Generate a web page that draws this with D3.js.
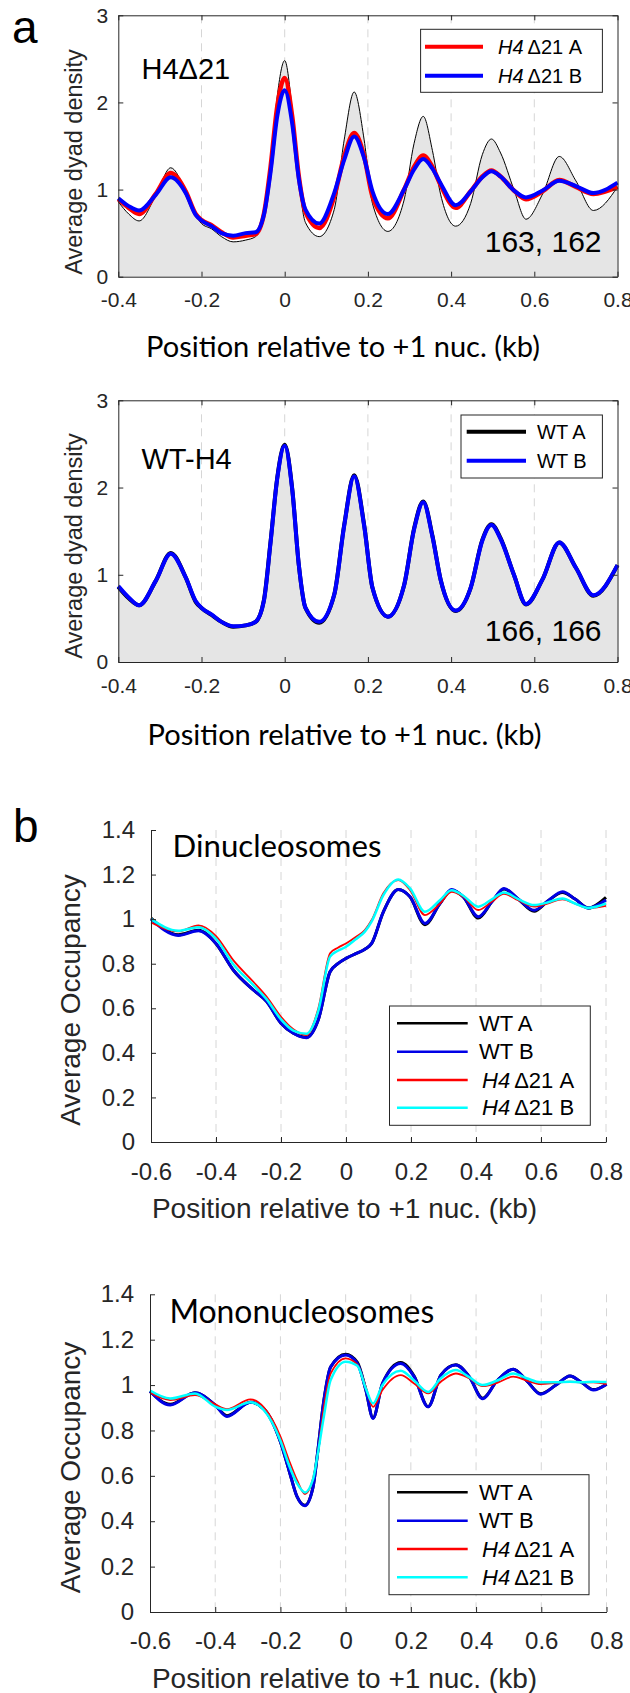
<!DOCTYPE html>
<html>
<head>
<meta charset="utf-8">
<title>Dyad density and nucleosome occupancy</title>
<script src="https://cdnjs.cloudflare.com/ajax/libs/d3/7.8.5/d3.min.js"></script>
<style>
body { margin: 0; background: #fff; }
svg { display: block; }
.axis path, .axis line { stroke: #262626; stroke-width: 1px; }
.axis text { fill: #262626; }
.grid { stroke: #d6d6d6; stroke-width: 1px; stroke-dasharray: 8,6; }
.curve { fill: none; stroke-linejoin: round; }
</style>
</head>
<body>
<script>
// ---- panel a: average dyad density (kb from +1 nucleosome) ----
var xDyad = [-0.4, -0.375, -0.35, -0.31, -0.274, -0.238, -0.214, -0.2, -0.176, -0.152, -0.124, -0.094, -0.07, -0.05, -0.034, -0.018, 0, 0.018, 0.034, 0.05, 0.083, 0.119, 0.143, 0.167, 0.191, 0.211, 0.248, 0.287, 0.311, 0.333, 0.355, 0.375, 0.411, 0.447, 0.475, 0.497, 0.519, 0.551, 0.58, 0.62, 0.66, 0.70, 0.742, 0.8];
var refDyad = [0.86, 0.72, 0.64, 0.93, 1.25, 0.98, 0.71, 0.61, 0.55, 0.46, 0.40, 0.42, 0.46, 0.69, 1.26, 2.07, 2.48, 1.92, 1.10, 0.62, 0.46, 0.77, 1.57, 2.12, 1.57, 0.84, 0.52, 0.88, 1.53, 1.84, 1.45, 0.94, 0.58, 0.84, 1.40, 1.58, 1.42, 1.00, 0.66, 0.95, 1.38, 1.10, 0.76, 1.03];
var mutADyad = [0.89, 0.79, 0.72, 0.95, 1.19, 0.98, 0.72, 0.65, 0.59, 0.51, 0.45, 0.47, 0.49, 0.72, 1.26, 1.95, 2.28, 1.84, 1.15, 0.74, 0.56, 0.92, 1.38, 1.65, 1.38, 0.92, 0.67, 1.00, 1.26, 1.39, 1.26, 1.05, 0.79, 0.98, 1.15, 1.22, 1.15, 0.99, 0.89, 0.98, 1.11, 1.03, 0.95, 1.03];
var mutBDyad = [0.90, 0.81, 0.76, 0.94, 1.14, 0.96, 0.71, 0.645, 0.58, 0.50, 0.47, 0.50, 0.51, 0.71, 1.20, 1.84, 2.14, 1.76, 1.12, 0.77, 0.61, 0.96, 1.34, 1.61, 1.36, 0.98, 0.72, 1.00, 1.23, 1.35, 1.24, 1.07, 0.82, 0.98, 1.14, 1.21, 1.15, 0.99, 0.91, 0.99, 1.10, 1.04, 0.96, 1.08];
var wtADyad = [0.86, 0.73, 0.65, 0.93, 1.25, 0.97, 0.69, 0.62, 0.54, 0.46, 0.405, 0.42, 0.46, 0.71, 1.38, 2.11, 2.49, 1.99, 1.11, 0.62, 0.45, 0.77, 1.57, 2.14, 1.57, 0.85, 0.52, 0.88, 1.53, 1.84, 1.45, 0.94, 0.585, 0.85, 1.40, 1.58, 1.42, 1.00, 0.66, 0.95, 1.37, 1.08, 0.76, 1.11];
var wtBDyad = [0.87, 0.74, 0.65, 0.93, 1.24, 0.97, 0.70, 0.62, 0.545, 0.46, 0.41, 0.42, 0.46, 0.70, 1.37, 2.10, 2.48, 1.98, 1.11, 0.62, 0.46, 0.77, 1.56, 2.13, 1.56, 0.85, 0.52, 0.88, 1.52, 1.83, 1.44, 0.94, 0.59, 0.85, 1.39, 1.57, 1.41, 1.00, 0.665, 0.95, 1.37, 1.08, 0.765, 1.11];

// ---- panel b: average occupancy, dinucleosomes ----
var xDi = [-0.6, -0.516, -0.454, -0.4, -0.347, -0.285, -0.244, -0.2, -0.162, -0.122, -0.085, -0.049, -0.025, 0, 0.03, 0.058, 0.079, 0.115, 0.161, 0.197, 0.243, 0.289, 0.325, 0.361, 0.407, 0.45, 0.486, 0.53, 0.579, 0.62, 0.666, 0.705, 0.745, 0.8];
var wtADi = [1.005, 0.93, 0.95, 0.89, 0.772, 0.682, 0.63, 0.533, 0.488, 0.47, 0.55, 0.764, 0.80, 0.824, 0.845, 0.865, 0.891, 1.033, 1.133, 1.10, 0.975, 1.07, 1.13, 1.10, 1.005, 1.08, 1.135, 1.09, 1.035, 1.08, 1.12, 1.09, 1.05, 1.098];
var wtBDi = [1.0, 0.927, 0.948, 0.891, 0.772, 0.682, 0.63, 0.533, 0.488, 0.468, 0.55, 0.764, 0.80, 0.824, 0.845, 0.865, 0.891, 1.033, 1.133, 1.10, 0.981, 1.07, 1.133, 1.10, 1.011, 1.08, 1.138, 1.09, 1.04, 1.08, 1.123, 1.09, 1.05, 1.086];
var mutADi = [0.985, 0.945, 0.972, 0.924, 0.816, 0.719, 0.652, 0.562, 0.506, 0.48, 0.60, 0.847, 0.872, 0.891, 0.92, 0.951, 0.996, 1.116, 1.175, 1.13, 1.018, 1.07, 1.123, 1.10, 1.041, 1.08, 1.113, 1.085, 1.056, 1.07, 1.089, 1.07, 1.05, 1.06];
var mutBDi = [1.0, 0.948, 0.964, 0.912, 0.798, 0.704, 0.64, 0.55, 0.50, 0.486, 0.59, 0.832, 0.858, 0.876, 0.91, 0.944, 0.99, 1.108, 1.178, 1.138, 1.033, 1.085, 1.13, 1.105, 1.056, 1.09, 1.12, 1.09, 1.063, 1.075, 1.093, 1.07, 1.05, 1.07];

// ---- panel b: average occupancy, mononucleosomes ----
var xMono = [-0.6, -0.538, -0.462, -0.4, -0.364, -0.292, -0.251, -0.2, -0.174, -0.149, -0.125, -0.1, -0.087, -0.067, -0.046, 0, 0.036, 0.062, 0.084, 0.113, 0.169, 0.21, 0.253, 0.292, 0.338, 0.379, 0.42, 0.465, 0.514, 0.555, 0.598, 0.645, 0.688, 0.725, 0.76, 0.8];
var wtAMono = [0.973, 0.915, 0.966, 0.912, 0.865, 0.924, 0.895, 0.75, 0.626, 0.508, 0.47, 0.55, 0.69, 0.93, 1.08, 1.136, 1.10, 0.978, 0.855, 1.007, 1.10, 1.04, 0.905, 1.044, 1.09, 1.037, 0.942, 1.02, 1.07, 1.02, 0.962, 1.0, 1.04, 1.01, 0.98, 1.004];
var wtBMono = [0.973, 0.912, 0.966, 0.912, 0.862, 0.924, 0.895, 0.75, 0.626, 0.508, 0.468, 0.55, 0.69, 0.93, 1.08, 1.132, 1.095, 0.978, 0.853, 1.007, 1.095, 1.037, 0.904, 1.044, 1.088, 1.037, 0.94, 1.02, 1.07, 1.02, 0.96, 1.0, 1.04, 1.01, 0.978, 1.004];
var mutAMono = [0.967, 0.934, 0.956, 0.915, 0.894, 0.937, 0.902, 0.773, 0.67, 0.581, 0.52, 0.59, 0.684, 0.90, 1.05, 1.118, 1.09, 0.99, 0.904, 0.978, 1.044, 1.007, 0.963, 1.015, 1.051, 1.03, 0.995, 1.01, 1.037, 1.02, 1.004, 1.01, 1.015, 1.012, 1.012, 1.004];
var mutBMono = [0.976, 0.941, 0.963, 0.905, 0.89, 0.924, 0.89, 0.755, 0.648, 0.567, 0.527, 0.585, 0.684, 0.86, 1.022, 1.103, 1.085, 0.985, 0.919, 1.0, 1.063, 1.02, 0.97, 1.03, 1.066, 1.035, 1.0, 1.02, 1.051, 1.03, 1.012, 1.012, 1.015, 1.012, 1.015, 1.013];

// ---- ticks ----
var xTicksA = [-0.4, -0.2, 0, 0.2, 0.4, 0.6, 0.8];
var xTickLabelsA = ["-0.4", "-0.2", "0", "0.2", "0.4", "0.6", "0.8"];
var yTicksA = [0, 1, 2, 3];
var yTickLabelsA = ["0", "1", "2", "3"];
var xTicksB = [-0.6, -0.4, -0.2, 0, 0.2, 0.4, 0.6, 0.8];
var xTickLabelsB = ["-0.6", "-0.4", "-0.2", "0", "0.2", "0.4", "0.6", "0.8"];
var yTicksB = [0, 0.2, 0.4, 0.6, 0.8, 1, 1.2, 1.4];
var yTickLabelsB = ["0", "0.2", "0.4", "0.6", "0.8", "1", "1.2", "1.4"];

var HELV = "'Liberation Sans', Arial, Helvetica, sans-serif";
var CALI = "Lato, 'Open Sans', sans-serif";
var INK = "#262626";

var svg = d3.select("body").append("svg")
    .attr("width", 630)
    .attr("height", 1693);

// shrink or grow a text until it spans the wanted width
function fitWidth(sel, w) {
    var len = sel.node().getComputedTextLength();
    sel.attr("font-size", parseFloat(sel.attr("font-size")) * w / len);
}

// "H4Δ21 A" -> italic H4 followed by the rest
function writeLabel(text, s) {
    if (s.indexOf("H4") === 0) {
        text.append("tspan").attr("font-style", "italic").text("H4");
        text.append("tspan").attr("dx", 4).text(s.slice(2));
    } else {
        text.text(s);
    }
}

function legend(g, L) {
    g.append("rect")
        .attr("x", L.x0).attr("y", L.y0)
        .attr("width", L.x1 - L.x0).attr("height", L.y1 - L.y0)
        .attr("fill", "#fff").attr("stroke", INK).attr("stroke-width", 1);
    L.items.forEach(function(s, i) {
        var yy = L.rows[i];
        g.append("line")
            .attr("x1", L.lx0).attr("x2", L.lx1)
            .attr("y1", yy).attr("y2", yy)
            .attr("stroke", s.color).attr("stroke-width", L.lw);
        var t = g.append("text")
            .attr("x", s.label.indexOf("H4") === 0 ? L.tx + L.italicShift : L.tx)
            .attr("y", yy).attr("dy", "0.35em")
            .attr("font-family", HELV).attr("font-size", L.fs)
            .attr("fill", "#000");
        writeLabel(t, s.label);
    });
}

function styleAxis(ax, fs) {
    ax.attr("class", "axis").attr("font-family", HELV).attr("font-size", fs);
    ax.selectAll("text").attr("fill", INK);
}

// ---------- dyad density panels ----------
function dyadPanel(o) {
    var x = d3.scaleLinear().domain([-0.4, 0.8]).range([o.l, o.r]);
    var y = d3.scaleLinear().domain([0, 3]).range([o.b, o.t]);
    var g = svg.append("g");

    g.selectAll(".grid").data(xTicksA.slice(1, -1)).enter().append("line")
        .attr("class", "grid")
        .attr("x1", function(d) { return x(d); }).attr("x2", function(d) { return x(d); })
        .attr("y1", o.t).attr("y2", o.b);

    var area = d3.area().curve(d3.curveMonotoneX)
        .x(function(d, i) { return x(xDyad[i]); })
        .y0(y(0))
        .y1(function(d) { return y(d); });
    var line = d3.line().curve(d3.curveMonotoneX)
        .x(function(d, i) { return x(xDyad[i]); })
        .y(function(d) { return y(d); });

    g.append("path").datum(o.fill).attr("d", area).attr("fill", "#e5e5e5");
    o.series.forEach(function(s) {
        g.append("path").datum(s.values)
            .attr("class", "curve").attr("d", line)
            .attr("stroke", s.color).attr("stroke-width", s.width);
    });

    styleAxis(g.append("g").attr("transform", "translate(0," + o.b + ")")
        .call(d3.axisBottom(x).tickValues(xTicksA)
            .tickFormat(function(d, i) { return xTickLabelsA[i]; })
            .tickSize(-5).tickSizeOuter(0).tickPadding(o.xPad)), 21);
    styleAxis(g.append("g").attr("transform", "translate(0," + o.t + ")")
        .call(d3.axisTop(x).tickValues(xTicksA).tickFormat("")
            .tickSize(-5).tickSizeOuter(0)), 21);
    styleAxis(g.append("g").attr("transform", "translate(" + o.l + ",0)")
        .call(d3.axisLeft(y).tickValues(yTicksA)
            .tickFormat(function(d, i) { return yTickLabelsA[i]; })
            .tickSize(-5).tickSizeOuter(0).tickPadding(10)), 21);
    styleAxis(g.append("g").attr("transform", "translate(" + o.r + ",0)")
        .call(d3.axisRight(y).tickValues(yTicksA).tickFormat("")
            .tickSize(-5).tickSizeOuter(0)), 21);

    g.append("text")
        .attr("transform", "translate(82," + o.yLabelMid + ") rotate(-90)")
        .attr("text-anchor", "middle")
        .attr("font-family", HELV).attr("font-size", 23.5).attr("fill", INK)
        .text("Average dyad density");

    var xl = g.append("text")
        .attr("x", o.xLabelMid).attr("y", o.xLabelBase)
        .attr("text-anchor", "middle")
        .attr("font-family", CALI).attr("font-size", 26).attr("fill", "#000")
        .text("Position relative to +1 nuc. (kb)");
    fitWidth(xl, 394);

    var tl = g.append("text")
        .attr("x", 141.5).attr("y", o.titleBase)
        .attr("font-family", HELV).attr("font-size", 29).attr("fill", "#000");
    writeLabel(tl, o.title);
    if (o.title.indexOf("H4") === 0) tl.selectAll("tspan").attr("font-style", null).attr("dx", null);

    g.append("text")
        .attr("x", 601.5).attr("y", o.countBase)
        .attr("text-anchor", "end")
        .attr("font-family", HELV).attr("font-size", 30).attr("fill", "#000")
        .text(o.count);

    legend(g, o.legend);
}

dyadPanel({
    l: 118.3, r: 617.5, t: 15.3, b: 276.7, xPad: 15.5,
    fill: refDyad,
    series: [
        { values: refDyad, color: "#000", width: 1 },
        { values: mutADyad, color: "#ff0000", width: 4.5 },
        { values: mutBDyad, color: "#0000ff", width: 4 }
    ],
    yLabelMid: 162, xLabelMid: 343, xLabelBase: 357.3,
    title: "H4Δ21", titleBase: 79.3,
    count: "163, 162", countBase: 252.3,
    legend: {
        x0: 420.6, x1: 602.4, y0: 29.3, y1: 92.3,
        lx0: 425, lx1: 483, tx: 498, italicShift: 0, lw: 4, fs: 20,
        rows: [46.7, 75.7],
        items: [{ label: "H4Δ21 A", color: "#ff0000" }, { label: "H4Δ21 B", color: "#0000ff" }]
    }
});

dyadPanel({
    l: 118.3, r: 617.5, t: 400.3, b: 662, xPad: 16,
    fill: wtADyad,
    series: [
        { values: wtADyad, color: "#000", width: 4 },
        { values: wtBDyad, color: "#0000ff", width: 4 }
    ],
    yLabelMid: 546, xLabelMid: 344.5, xLabelBase: 745,
    title: "WT-H4", titleBase: 469,
    count: "166, 166", countBase: 640.7,
    legend: {
        x0: 461, x1: 602.4, y0: 415, y1: 478,
        lx0: 466.7, lx1: 526, tx: 537, italicShift: 0, lw: 4, fs: 20,
        rows: [431.7, 460.7],
        items: [{ label: "WT A", color: "#000" }, { label: "WT B", color: "#0000ff" }]
    }
});

// ---------- occupancy panels ----------
function occPanel(o) {
    var x = d3.scaleLinear().domain([-0.6, 0.8]).range([o.l, o.r]);
    var y = d3.scaleLinear().domain([0, 1.4]).range([o.b, o.t]);
    var g = svg.append("g");

    g.selectAll(".grid").data(xTicksB.slice(1)).enter().append("line")
        .attr("class", "grid")
        .attr("x1", function(d) { return x(d); }).attr("x2", function(d) { return x(d); })
        .attr("y1", o.t).attr("y2", o.b);

    var line = d3.line().curve(d3.curveMonotoneX)
        .x(function(d, i) { return x(o.xs[i]); })
        .y(function(d) { return y(d); });
    o.series.forEach(function(s) {
        g.append("path").datum(s.values)
            .attr("class", "curve").attr("d", line)
            .attr("stroke", s.color).attr("stroke-width", s.width);
    });

    styleAxis(g.append("g").attr("transform", "translate(0," + o.b + ")")
        .call(d3.axisBottom(x).tickValues(xTicksB)
            .tickFormat(function(d, i) { return xTickLabelsB[i]; })
            .tickSize(-5).tickSizeOuter(0).tickPadding(o.xPad)), 24);
    styleAxis(g.append("g").attr("transform", "translate(" + o.l + ",0)")
        .call(d3.axisLeft(y).tickValues(yTicksB)
            .tickFormat(function(d, i) { return yTickLabelsB[i]; })
            .tickSize(-5).tickSizeOuter(0).tickPadding(16)), 24);

    g.append("text")
        .attr("transform", "translate(80," + o.yLabelMid + ") rotate(-90)")
        .attr("text-anchor", "middle")
        .attr("font-family", HELV).attr("font-size", 28).attr("fill", INK)
        .text("Average Occupancy");

    g.append("text")
        .attr("x", 344.5).attr("y", o.xLabelBase)
        .attr("text-anchor", "middle")
        .attr("font-family", HELV).attr("font-size", 28).attr("fill", INK)
        .text("Position relative to +1 nuc. (kb)");

    var tt = g.append("text")
        .attr("x", o.titleX).attr("y", o.titleBase)
        .attr("font-family", CALI).attr("font-size", 28).attr("fill", "#000")
        .text(o.title);
    fitWidth(tt, o.titleW);

    legend(g, o.legend);
}

var occItems = [
    { label: "WT A", color: "#000000" },
    { label: "WT B", color: "#0000e6" },
    { label: "H4Δ21 A", color: "#ff0000" },
    { label: "H4Δ21 B", color: "#00ffff" }
];

occPanel({
    l: 151, r: 606, t: 830, b: 1142, xPad: 21,
    xs: xDi,
    series: [
        { values: wtADi, color: "#000000", width: 3 },
        { values: wtBDi, color: "#0000e6", width: 3 },
        { values: mutADi, color: "#ff0000", width: 1.8 },
        { values: mutBDi, color: "#00ffff", width: 2.5 }
    ],
    yLabelMid: 1000, xLabelBase: 1218.3,
    title: "Dinucleosomes", titleX: 172.6, titleBase: 856.7, titleW: 209,
    legend: {
        x0: 389.5, x1: 590.3, y0: 1006, y1: 1125.3,
        lx0: 397, lx1: 467.7, tx: 479, italicShift: 3, lw: 2.5, fs: 22,
        rows: [1023.3, 1051.7, 1080, 1107.7],
        items: occItems
    }
});

occPanel({
    l: 150, r: 606.5, t: 1294.3, b: 1612, xPad: 20,
    xs: xMono,
    series: [
        { values: wtAMono, color: "#000000", width: 3 },
        { values: wtBMono, color: "#0000e6", width: 3 },
        { values: mutAMono, color: "#ff0000", width: 1.8 },
        { values: mutBMono, color: "#00ffff", width: 2.5 }
    ],
    yLabelMid: 1467.5, xLabelBase: 1688.3,
    title: "Mononucleosomes", titleX: 169.4, titleBase: 1323.3, titleW: 265,
    legend: {
        x0: 389, x1: 589, y0: 1474.7, y1: 1594.7,
        lx0: 397, lx1: 467.7, tx: 479, italicShift: 3, lw: 2.5, fs: 22,
        rows: [1492.3, 1520.7, 1549, 1577.3],
        items: occItems
    }
});

// panel letters
svg.append("text").attr("x", 12).attr("y", 43)
    .attr("font-family", HELV).attr("font-size", 46).attr("fill", "#000").text("a");
svg.append("text").attr("x", 13).attr("y", 842)
    .attr("font-family", HELV).attr("font-size", 46).attr("fill", "#000").text("b");
</script>
</body>
</html>
